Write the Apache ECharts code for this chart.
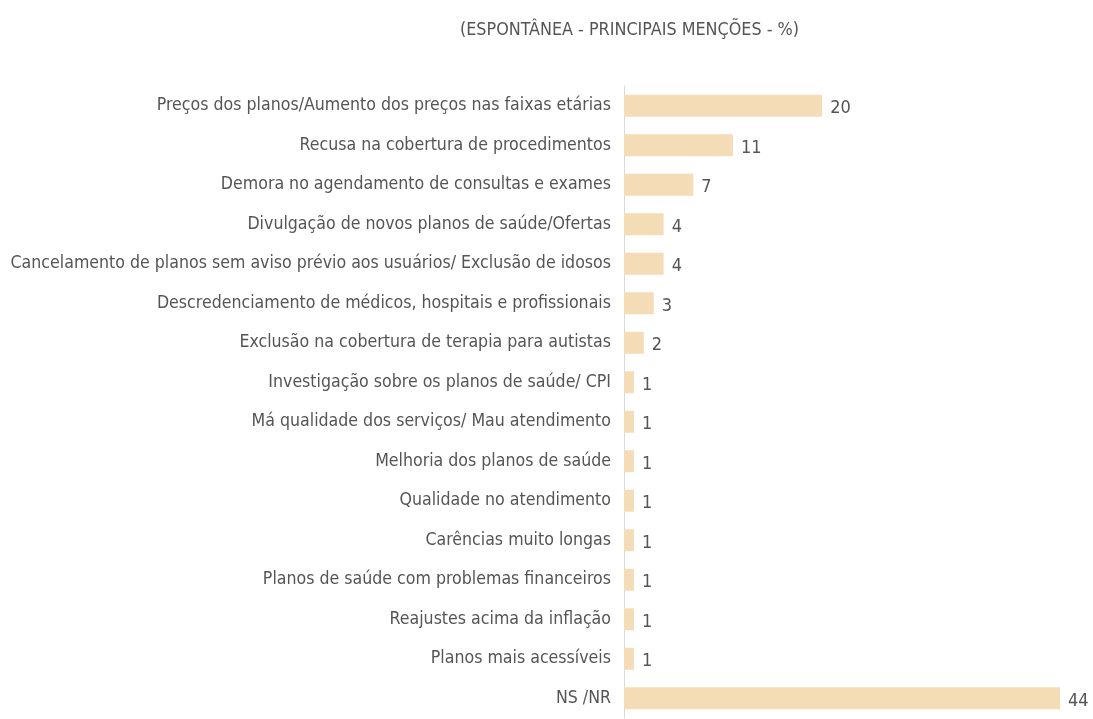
<!DOCTYPE html>
<html>
<head>
<meta charset="utf-8">
<title>Principais menções</title>
<script src="https://cdn.jsdelivr.net/npm/echarts@6/dist/echarts.min.js"></script>
<style>
  html, body { margin: 0; padding: 0; background: #fff; }
  #main { width: 1093px; height: 719px; }
</style>
</head>
<body>
<div id="main"></div>
<script>
// categorias (de cima para baixo)
var categorias = [
    'Preços dos planos/Aumento dos preços nas faixas etárias',
    'Recusa na cobertura de procedimentos',
    'Demora no agendamento de consultas e exames',
    'Divulgação de novos planos de saúde/Ofertas',
    'Cancelamento de planos sem aviso prévio aos usuários/ Exclusão de idosos',
    'Descredenciamento de médicos, hospitais e profissionais',
    'Exclusão na cobertura de terapia para autistas',
    'Investigação sobre os planos de saúde/ CPI',
    'Má qualidade dos serviços/ Mau atendimento',
    'Melhoria dos planos de saúde',
    'Qualidade no atendimento',
    'Carências muito longas',
    'Planos de saúde com problemas financeiros',
    'Reajustes acima da inflação',
    'Planos mais acessíveis',
    'NS /NR'
];
var valores = [20, 11, 7, 4, 4, 3, 2, 1, 1, 1, 1, 1, 1, 1, 1, 44];
var titulo = '(ESPONTÂNEA - PRINCIPAIS MENÇÕES - %)';

var fonte = '"Liberation Sans Narrow", "DejaVu Sans Condensed", sans-serif';
var myChart = echarts.init(document.getElementById('main'));

var option = {
    animation: false,
    title: {
        text: titulo,
        left: 455,
        top: 16,
        textStyle: {
            fontFamily: fonte,
            fontSize: 17.8,
            fontWeight: 'normal',
            color: '#555'
        }
    },
    grid: {
        left: 624,
        right: 33,
        top: 86,
        bottom: 1,
        outerBoundsMode: 'none',
        containLabel: false
    },
    xAxis: {
        type: 'value',
        min: 0,
        max: 44,
        show: false
    },
    yAxis: {
        type: 'category',
        inverse: true,
        data: categorias,
        axisLine: { show: true, lineStyle: { color: '#d9d9d9', width: 1 } },
        axisTick: { show: false },
        axisLabel: {
            margin: 13,
            fontFamily: fonte,
            fontSize: 17.6,
            color: '#555'
        }
    },
    series: [{
        type: 'bar',
        data: valores,
        barWidth: 22,
        itemStyle: { color: '#f3dcb6' },
        label: {
            show: true,
            position: 'right',
            distance: 8,
            offset: [0, 3],
            fontFamily: fonte,
            fontSize: 18,
            color: '#555'
        }
    }]
};

myChart.setOption(option);
window.onresize = myChart.resize;
</script>
</body>
</html>
